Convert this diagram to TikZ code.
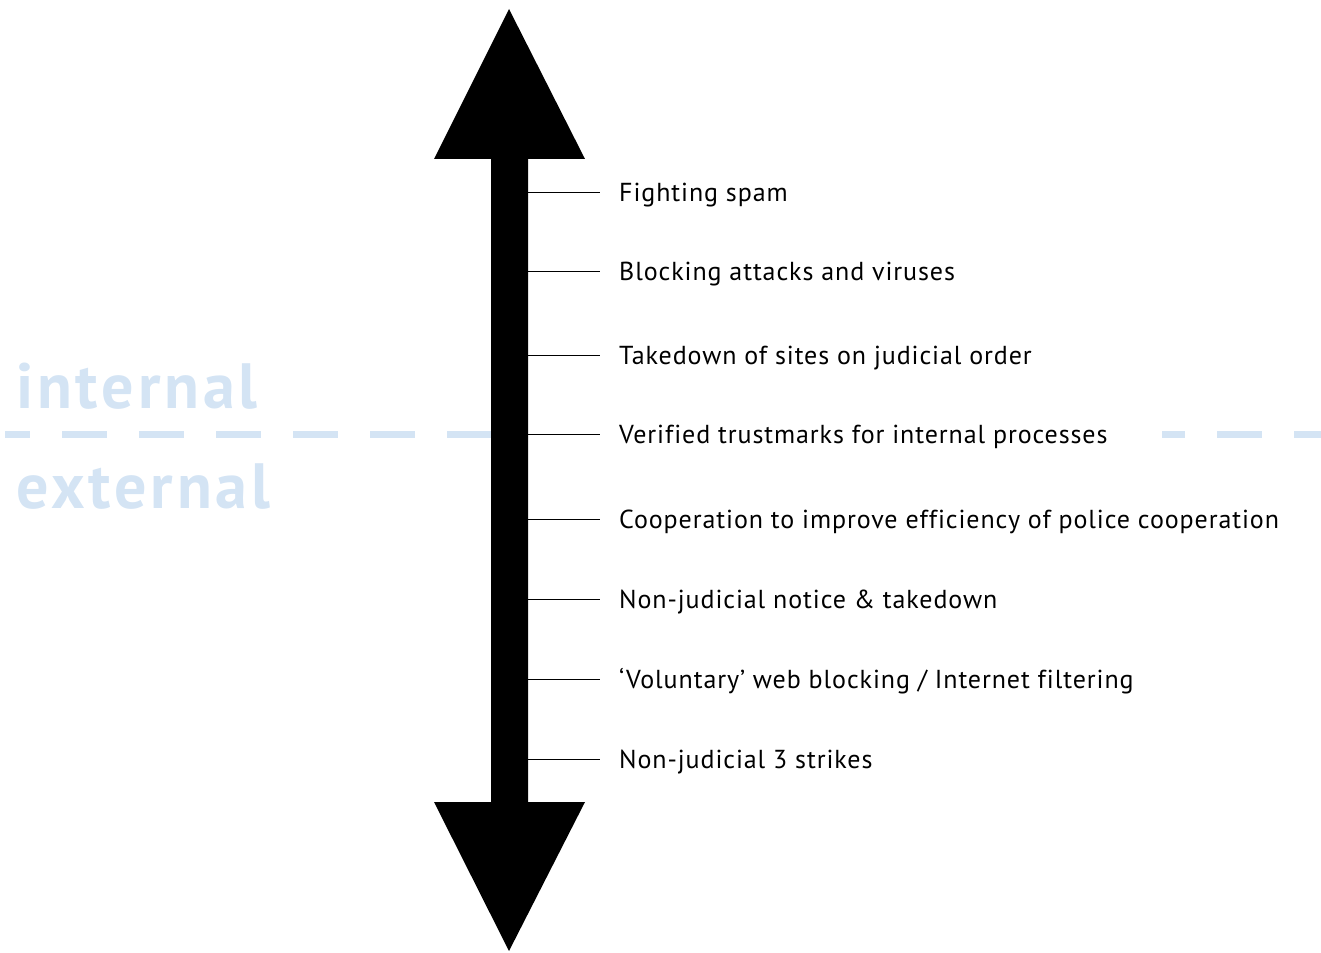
\documentclass[tikz,border=0pt]{standalone}
\usepackage{fontspec}
\setmainfont{PT Sans}
\newfontfamily\labelfont[LetterSpace=3.5,Ligatures=NoCommon]{PT Sans}
\newfontfamily\zonefont[LetterSpace=6]{PT Sans}
\definecolor{paleblue}{RGB}{212,228,244}
\tikzset{
  lbl/.style={anchor=base west, inner sep=0pt,
    font=\labelfont\fontsize{26}{30}\selectfont},
  tick/.style={black, line width=1pt},
  zone/.style={anchor=base west, inner sep=0pt, text=paleblue,
    font=\zonefont\fontsize{64}{70}\selectfont\bfseries},
  divider/.style={paleblue, line width=7pt, dash pattern=on 45pt off 32pt},
}
\begin{document}
\begin{tikzpicture}[x=1pt,y=-1pt]
  \useasboundingbox (0,0) rectangle (1321,952);
  % internal / external divide
  \draw[divider, dash phase=20pt] (5,434) -- (509,434);
  \draw[divider, dash phase=22pt] (1162,434) -- (1321,434);
  \node[zone] (int) at (16,408) {internal};
  \node[zone] (ext) at (16,508) {external};
  % the double arrow
  \fill (509,9) -- (585,159) -- (528,159) -- (528,802) -- (585,802)
    -- (509,951) -- (434,802) -- (491,802) -- (491,159) -- (434,159) -- cycle;
  % measures
  \foreach \y/\txt [count=\i] in {
      192/{Fighting spam},
      271/{Blocking attacks and viruses},
      355/{Takedown of sites on judicial order},
      434/{Verified trustmarks for internal processes},
      519/{Cooperation to improve efficiency of police cooperation},
      599/{Non-judicial notice \& takedown},
      679/{‘Voluntary’ web blocking / Internet filtering},
      759/{Non-judicial 3 strikes}}{
    \coordinate (s\i) at (528,\y);
    \node[lbl] (l\i) at (619,\y+9) {\txt};
    \draw[tick] (s\i) -- ([xshift=-19pt]l\i.west |- s\i);
  }
\end{tikzpicture}
\end{document}
